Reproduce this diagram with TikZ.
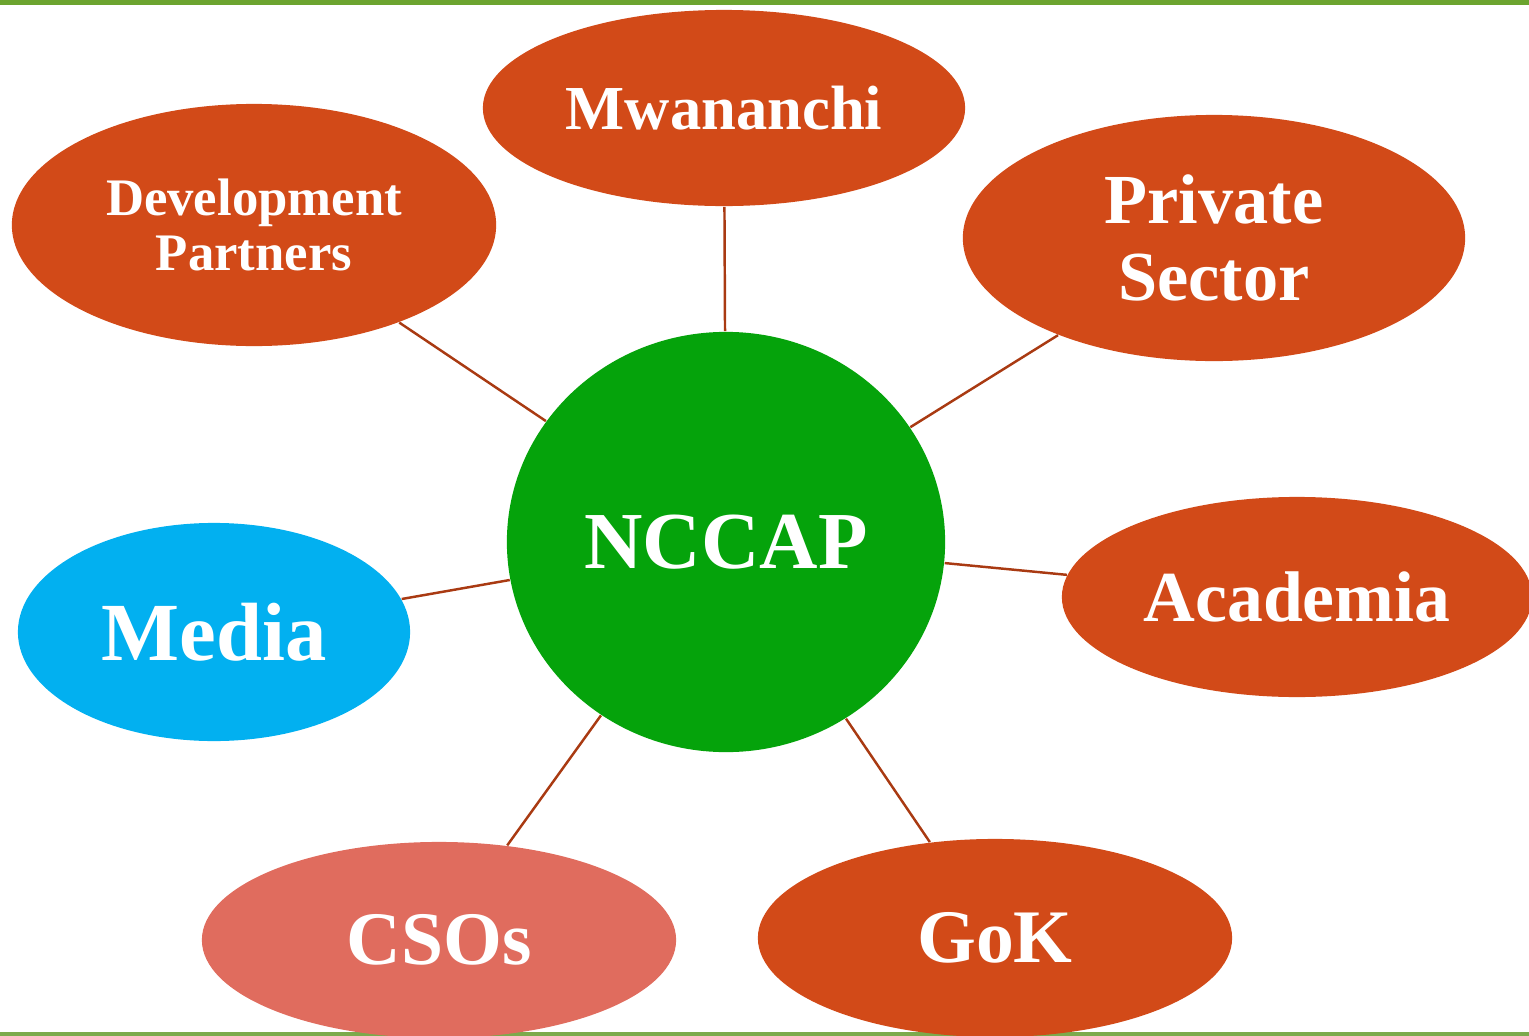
\documentclass[tikz,border=0pt]{standalone}
\usepackage{fontspec}
\setmainfont{Liberation Serif}
\usetikzlibrary{shapes.geometric}

\definecolor{rust}{HTML}{D24A18}
\definecolor{hubgreen}{HTML}{05A30B}
\definecolor{mediablue}{HTML}{02B0F0}
\definecolor{salmon}{HTML}{E06C5E}
\definecolor{linkbrown}{HTML}{A93A12}
\definecolor{barGreen}{HTML}{6CA42F}
\definecolor{barLight}{HTML}{7CAA4C}

\begin{document}
\begin{tikzpicture}[
  x=0.01cm, y=-0.01cm,
  party/.style={ellipse, fill=rust, text=white, align=center, inner sep=0pt},
  hub/.style={ellipse, fill=hubgreen, text=white, inner sep=0pt,
    minimum width=4.38cm, minimum height=4.2cm},
  link/.style={draw=linkbrown, line width=0.7pt}
]
  \useasboundingbox (0,0) rectangle (1529,1036);
  \clip (0,0) rectangle (1529,1036);

  % frame bars
  \fill[barGreen] (0,0) rectangle (1529,5);
  \fill[barLight] (0,1032) rectangle (1529,1036);

  \node[hub, font=\fontsize{23}{24}\selectfont\bfseries] (nccap) at (726,542) {NCCAP};

  \node[party, minimum width=4.82cm, minimum height=1.96cm,
    font=\fontsize{17.8}{19}\selectfont\bfseries] (mwananchi) at (724,108) {Mwananchi};
  \node[party, minimum width=4.84cm, minimum height=2.42cm,
    font=\fontsize{15}{15.6}\selectfont\bfseries] (devpart) at (254,225) {Development\\Partners};
  \node[party, minimum width=5.02cm, minimum height=2.46cm,
    font=\fontsize{20}{22}\selectfont\bfseries] (private) at (1214,238) {Private\\Sector};
  \node[party, minimum width=4.7cm, minimum height=2.0cm,
    font=\fontsize{20.4}{21}\selectfont\bfseries] (academia) at (1297,597) {Academia};
  \node[party, fill=mediablue, minimum width=3.92cm, minimum height=2.18cm,
    font=\fontsize{23.5}{24}\selectfont\bfseries] (media) at (214,632) {Media};
  \node[party, fill=salmon, minimum width=4.74cm, minimum height=1.96cm,
    font=\fontsize{21.5}{22}\selectfont\bfseries] (csos) at (439,940) {CSOs};
  \node[party, minimum width=4.74cm, minimum height=1.98cm,
    font=\fontsize{21.5}{22}\selectfont\bfseries] (gok) at (995,938) {GoK};

  % spokes
  \draw[link] (nccap) -- (mwananchi);
  \draw[link] (nccap) -- (devpart);
  \draw[link] (nccap) -- (private);
  \draw[link] (nccap) -- (academia);
  \draw[link] (nccap) -- (media);
  \draw[link] (nccap) -- (csos);
  \draw[link] (nccap) -- (gok);
\end{tikzpicture}
\end{document}
